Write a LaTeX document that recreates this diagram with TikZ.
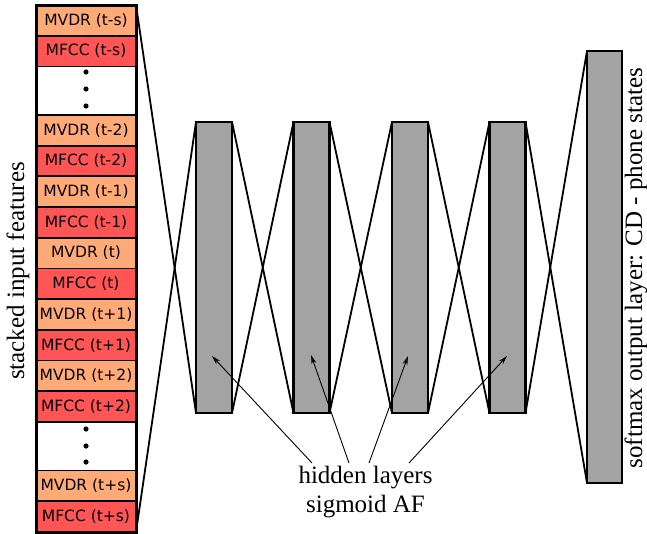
\documentclass[tikz,border=0pt]{standalone}
\usepackage{fontspec}
\setmainfont{Liberation Serif}
\newfontfamily\boxfont{DejaVu Sans}
\usetikzlibrary{arrows.meta}
\definecolor{mvdr}{HTML}{FFAA77}
\definecolor{mfcc}{HTML}{FF5555}
\definecolor{layergray}{HTML}{A3A3A3}
\begin{document}
\begin{tikzpicture}[x=1pt,y=-1pt,
  cell/.style={draw, line width=1.8pt, minimum width=100pt, minimum height=30.7pt,
    inner sep=0pt, outer sep=0pt, anchor=north, font=\boxfont\fontsize{15.5}{18}\selectfont},
  dotcell/.style={cell, minimum height=48.5pt},
  frame/.style={draw, line width=3pt, minimum width=100pt, minimum height=527pt,
    inner sep=0pt, outer sep=0pt, anchor=north},
  hid/.style={draw, line width=2.6pt, fill=layergray, minimum width=36pt,
    minimum height=291pt, inner sep=0pt, outer sep=0pt},
  conn/.style={line width=1.8pt},
  pointer/.style={line width=0.9pt, -{Stealth[length=9pt,width=5pt]}},
  lbl/.style={font=\fontsize{25}{29}\selectfont}
]
\useasboundingbox (0,0) rectangle (647,533);
% input column
\node[cell,fill=mvdr] (c1) at (86,5) {MVDR (t-s)};
\node[cell,fill=mfcc] (c2) at (c1.south) {MFCC (t-s)};
\node[dotcell,fill=white] (d1) at (c2.south) {};
\node[cell,fill=mvdr] (c3) at (d1.south) {MVDR (t-2)};
\node[cell,fill=mfcc] (c4) at (c3.south) {MFCC (t-2)};
\node[cell,fill=mvdr] (c5) at (c4.south) {MVDR (t-1)};
\node[cell,fill=mfcc] (c6) at (c5.south) {MFCC (t-1)};
\node[cell,fill=mvdr] (c7) at (c6.south) {MVDR (t)};
\node[cell,fill=mfcc] (c8) at (c7.south) {MFCC (t)};
\node[cell,fill=mvdr] (c9) at (c8.south) {MVDR (t+1)};
\node[cell,fill=mfcc] (c10) at (c9.south) {MFCC (t+1)};
\node[cell,fill=mvdr] (c11) at (c10.south) {MVDR (t+2)};
\node[cell,fill=mfcc] (c12) at (c11.south) {MFCC (t+2)};
\node[dotcell,fill=white] (d2) at (c12.south) {};
\node[cell,fill=mvdr] (c13) at (d2.south) {MVDR (t+s)};
\node[cell,fill=mfcc] (c14) at (c13.south) {MFCC (t+s)};
\node[frame] (col) at (86,5) {};
\foreach \yy in {72,89,106,429,446,462} \fill (86,\yy) circle (2.6pt);
% hidden layers
\node[hid] (h1) at (214,267.5) {};
\node[hid] (h2) at (311.5,267.5) {};
\node[hid] (h3) at (410,267.5) {};
\node[hid] (h4) at (507.5,267.5) {};
\node[hid, minimum width=35pt, minimum height=432pt] (out) at (604.5,267) {};
% connectors
\draw[conn] (col.north east) -- (h1.south west);
\draw[conn] (col.south east) -- (h1.north west);
\draw[conn] (h1.north east) -- (h2.south west);
\draw[conn] (h1.south east) -- (h2.north west);
\draw[conn] (h2.north east) -- (h3.south west);
\draw[conn] (h2.south east) -- (h3.north west);
\draw[conn] (h3.north east) -- (h4.south west);
\draw[conn] (h3.south east) -- (h4.north west);
\draw[conn] (h4.north east) -- (out.south west);
\draw[conn] (h4.south east) -- (out.north west);
% labels
\node[lbl, anchor=base] (la) at (365.5,483) {hidden layers};
\node[lbl, anchor=base] (lb) at (365.5,512) {sigmoid AF};
\node[lbl, rotate=90] (lin) at (18,271) {stacked input features};
\node[lbl, rotate=90] (lout) at (636,268) {softmax output layer: CD - phone states};
% pointers
\coordinate (s1) at (312,463); \coordinate (t1) at (212,356);
\coordinate (s2) at (349,463); \coordinate (t2) at (311,355);
\coordinate (s3) at (369,463); \coordinate (t3) at (408,356);
\coordinate (s4) at (409,463); \coordinate (t4) at (507,356);
\draw[pointer] (s1) -- (t1);
\draw[pointer] (s2) -- (t2);
\draw[pointer] (s3) -- (t3);
\draw[pointer] (s4) -- (t4);
\end{tikzpicture}
\end{document}
